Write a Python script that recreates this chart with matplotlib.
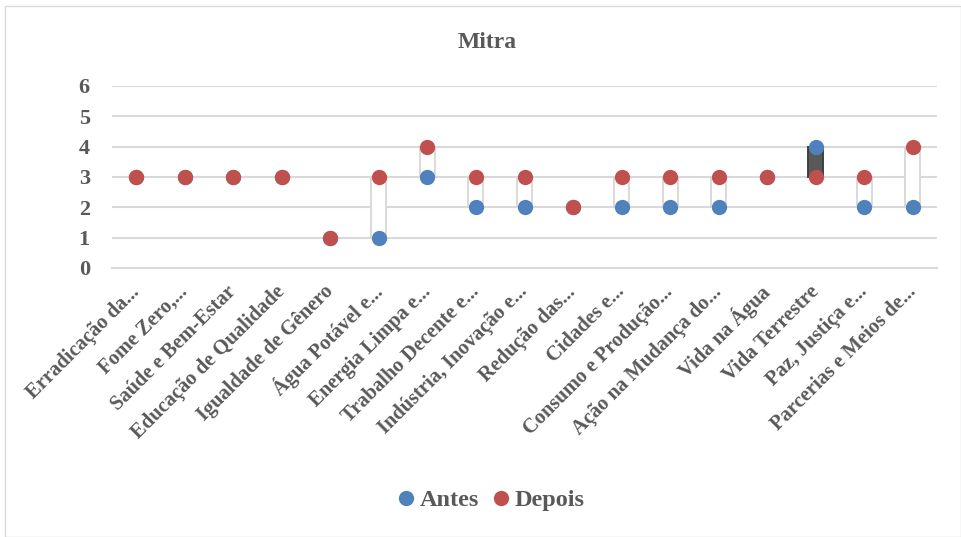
import matplotlib
matplotlib.use("Agg")
import matplotlib.pyplot as plt
from matplotlib.lines import Line2D
from matplotlib.patches import Rectangle
import numpy as np

categories = [
    "Erradicação da...", "Fome Zero,...", "Saúde e Bem-Estar",
    "Educação de Qualidade", "Igualdade de Gênero", "Água Potável e...",
    "Energia Limpa e...", "Trabalho Decente e...", "Indústria, Inovação e...",
    "Redução das...", "Cidades e...", "Consumo e Produção...",
    "Ação na Mudança do...", "Vida na Água", "Vida Terrestre",
    "Paz, Justiça e...", "Parcerias e Meios de...",
]
antes = [3, 3, 3, 3, 1, 1, 3, 2, 2, 2, 2, 2, 2, 3, 4, 2, 2]
depois = [3, 3, 3, 3, 1, 3, 4, 3, 3, 2, 3, 3, 3, 3, 3, 3, 4]
yticks = [0, 1, 2, 3, 4, 5, 6]

BLUE = "#4F81BD"
RED = "#C0504D"
TEXT = "#595959"
GRID = "#D9D9D9"
FONT = ["Liberation Serif", "DejaVu Serif"]

plt.rcParams["font.family"] = FONT
plt.rcParams["font.weight"] = "bold"

fig = plt.figure(figsize=(9.62, 5.37), dpi=100)
fig.patch.set_facecolor("white")
# chart frame
fig.add_artist(Rectangle((5 / 962, 0.5 / 537), 956 / 962, 531 / 537,
                         transform=fig.transFigure, fill=False,
                         edgecolor=GRID, linewidth=1.0))

ax = fig.add_axes([112 / 962, 1 - 268 / 537, 825 / 962, 182 / 537])
x = np.arange(len(categories))
a = np.array(antes, dtype=float)
d = np.array(depois, dtype=float)

# up/down bars between the two series
diff = d - a
up_face = ["white" if v >= 0 else "#595959" for v in diff]
up_edge = [GRID if v >= 0 else "#404040" for v in diff]
ax.bar(x, diff, bottom=a, width=0.31, color=up_face, edgecolor=up_edge,
       linewidth=1.4, zorder=2)

ax.plot(x, a, linestyle="none", marker="o", markersize=11, color=BLUE,
        markeredgewidth=0, zorder=3)
ax.plot(x, d, linestyle="none", marker="o", markersize=11, color=RED,
        markeredgewidth=0, zorder=4)

ax.set_xlim(-0.5, len(categories) - 0.5)
ax.set_ylim(0, 6)
ax.set_yticks(yticks)
ax.set_yticklabels([str(t) for t in yticks])
ax.yaxis.grid(True, color=GRID, linewidth=1.5)
ax.set_axisbelow(True)
for s in ["top", "right", "left"]:
    ax.spines[s].set_visible(False)
ax.spines["bottom"].set_color(GRID)
ax.spines["bottom"].set_linewidth(1.5)
ax.tick_params(axis="both", length=0)
ax.tick_params(axis="y", pad=16, labelsize=16, labelcolor=TEXT)
ax.set_xticks(x)
ax.set_xticklabels(categories)
ax.tick_params(axis="x", pad=15, labelsize=14.8, labelcolor=TEXT)
for lab in ax.get_xticklabels():
    lab.set_rotation(45)
    lab.set_ha("right")
    lab.set_va("center")
    lab.set_rotation_mode("anchor")
    lab.set_fontweight("bold")
for lab in ax.get_yticklabels():
    lab.set_fontweight("bold")

fig.text(487 / 962, 1 - 43 / 537, "Mitra", ha="center", va="center",
         fontsize=17, fontweight="bold", color=TEXT)

handles = [
    Line2D([], [], linestyle="none", marker="o", markersize=11, color=BLUE,
           markeredgewidth=0, label="Antes"),
    Line2D([], [], linestyle="none", marker="o", markersize=11, color=RED,
           markeredgewidth=0, label="Depois"),
]
leg = fig.legend(handles=handles, loc="center", ncol=2,
                 bbox_to_anchor=(490 / 962, 1 - 500 / 537), frameon=False,
                 prop={"size": 17.5, "weight": "bold"}, handletextpad=0.1,
                 columnspacing=0.45, handlelength=0.9)
for t in leg.get_texts():
    t.set_color(TEXT)

fig.savefig("out.png", dpi=100, facecolor="white")
